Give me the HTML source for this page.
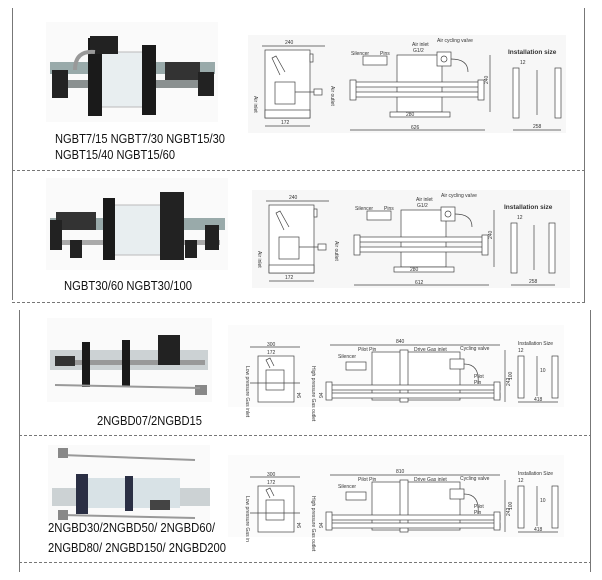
<!DOCTYPE html>
<html><head><meta charset="utf-8"><style>
html,body{margin:0;padding:0;background:#fff;width:602px;height:580px;overflow:hidden}
svg{display:block}
text{font-family:"Liberation Sans",sans-serif}
.cap{font-family:"Liberation Sans",sans-serif;font-size:12.5px;fill:#111}
.t{font-size:5px;fill:#333}
.tb{font-size:6.5px;fill:#333;font-weight:bold}
.l{stroke:#444;stroke-width:0.7;fill:none}
.f{stroke:#444;stroke-width:0.7;fill:#fff}
</style></head><body>
<svg width="602" height="580" viewBox="0 0 602 580" xmlns="http://www.w3.org/2000/svg">
<line x1="12.5" y1="8" x2="12.5" y2="300" stroke="#777" stroke-width="1"/>
<line x1="584.5" y1="8" x2="584.5" y2="302" stroke="#777" stroke-width="1"/>
<line x1="12" y1="170.5" x2="585" y2="170.5" stroke="#777" stroke-dasharray="3,2"/>
<line x1="12" y1="302.5" x2="585" y2="302.5" stroke="#777" stroke-dasharray="3,2"/>
<line x1="19.5" y1="310" x2="19.5" y2="572" stroke="#777" stroke-width="1"/>
<line x1="590.5" y1="310" x2="590.5" y2="572" stroke="#777" stroke-width="1"/>
<line x1="19" y1="435.5" x2="591" y2="435.5" stroke="#777" stroke-dasharray="3,2"/>
<line x1="19" y1="562.5" x2="591" y2="562.5" stroke="#777" stroke-dasharray="3,2"/>

<g>
<rect x="46" y="22" width="172" height="100" fill="#fafafa"/>
<rect x="50" y="62" width="165" height="12" fill="#9aa" />
<rect x="52" y="80" width="160" height="8" fill="#8a9090"/>
<rect x="95" y="52" width="55" height="55" fill="#e8eef0" stroke="#bbb"/>
<rect x="88" y="38" width="14" height="78" fill="#1a1a1a"/>
<rect x="142" y="45" width="14" height="70" fill="#1a1a1a"/>
<rect x="90" y="36" width="28" height="18" fill="#222"/>
<rect x="165" y="62" width="35" height="18" fill="#333"/>
<rect x="52" y="70" width="16" height="28" fill="#222"/>
<rect x="198" y="72" width="16" height="24" fill="#222"/>
<path d="M75 70 Q75 50 95 52" stroke="#999" stroke-width="4" fill="none"/>
</g>
<text class="cap" x="55" y="143" textLength="170" lengthAdjust="spacingAndGlyphs">NGBT7/15 NGBT7/30 NGBT15/30</text>
<text class="cap" x="55" y="159" textLength="120" lengthAdjust="spacingAndGlyphs">NGBT15/40 NGBT15/60</text>

<g>
<rect x="46" y="178" width="182" height="92" fill="#fafafa"/>
<rect x="50" y="218" width="175" height="12" fill="#9aa"/>
<rect x="60" y="240" width="160" height="5" fill="#aaa"/>
<rect x="108" y="205" width="55" height="50" fill="#e8eef0" stroke="#bbb"/>
<rect x="103" y="198" width="12" height="62" fill="#1a1a1a"/>
<rect x="160" y="192" width="24" height="68" fill="#222"/>
<rect x="56" y="212" width="40" height="18" fill="#333"/>
<rect x="50" y="220" width="12" height="30" fill="#222"/>
<rect x="205" y="225" width="14" height="25" fill="#222"/>
<rect x="70" y="240" width="12" height="18" fill="#222"/>
<rect x="185" y="240" width="12" height="18" fill="#222"/>
</g>
<text class="cap" x="64" y="290" textLength="128" lengthAdjust="spacingAndGlyphs">NGBT30/60 NGBT30/100</text>

<g>
<rect x="248" y="35" width="318" height="98" fill="#f7f7f7"/>
<text class="t" x="285" y="44">240</text>
<line class="l" x1="262" y1="46" x2="325" y2="46"/>
<rect class="f" x="265" y="50" width="45" height="68"/>
<rect class="f" x="310" y="54" width="3" height="8"/>
<rect class="f" x="275" y="82" width="20" height="22"/>
<path class="l" d="M280 75 L272 58 L276 56 L285 72"/>
<rect class="f" x="265" y="110" width="45" height="8"/>
<line class="l" x1="295" y1="92" x2="322" y2="92"/>
<rect class="f" x="314" y="89" width="8" height="6"/>
<text class="t" x="254" y="96" transform="rotate(90 254 96)">Air inlet</text>
<text class="t" x="331" y="86" transform="rotate(90 331 86)">Air outlet</text>
<text class="t" x="281" y="124">172</text>
<line class="l" x1="265" y1="126" x2="310" y2="126"/>
<text class="t" x="351" y="55">Silencer</text>
<text class="t" x="380" y="55">Pins</text>
<text class="t" x="412" y="46">Air inlet</text>
<text class="t" x="413" y="52">G1/2</text>
<text class="t" x="437" y="42">Air cycling valve</text>
<rect class="f" x="363" y="56" width="24" height="9"/>
<rect class="f" x="397" y="55" width="45" height="57"/>
<rect class="f" x="437" y="52" width="14" height="14"/>
<circle class="l" cx="444" cy="59" r="3"/>
<path class="l" d="M451 59 Q468 59 468 72"/>
<rect class="f" x="352" y="82" width="130" height="5"/>
<rect class="f" x="352" y="92" width="130" height="5"/>
<rect class="f" x="350" y="80" width="6" height="20"/>
<rect class="f" x="478" y="80" width="6" height="20"/>
<rect class="f" x="390" y="112" width="60" height="5"/>
<text class="t" x="406" y="116">280</text>
<text class="t" x="411" y="129">626</text>
<line class="l" x1="350" y1="130" x2="485" y2="130"/>
<line class="l" x1="490" y1="55" x2="490" y2="112"/>
<text class="t" x="494" y="78" transform="rotate(-90 494 84)">240</text>
<text class="tb" x="508" y="54">Installation size</text>
<text class="t" x="520" y="64">12</text>
<rect class="f" x="513" y="68" width="6" height="50"/>
<rect class="f" x="555" y="68" width="6" height="50"/>
<line class="l" x1="537" y1="70" x2="537" y2="115"/>
<line class="l" x1="513" y1="130" x2="561" y2="130"/>
<text class="t" x="533" y="128">258</text>
</g>
<g transform="translate(4,155)">
<rect x="248" y="35" width="318" height="98" fill="#f7f7f7"/>
<text class="t" x="285" y="44">240</text>
<line class="l" x1="262" y1="46" x2="325" y2="46"/>
<rect class="f" x="265" y="50" width="45" height="68"/>
<rect class="f" x="310" y="54" width="3" height="8"/>
<rect class="f" x="275" y="82" width="20" height="22"/>
<path class="l" d="M280 75 L272 58 L276 56 L285 72"/>
<rect class="f" x="265" y="110" width="45" height="8"/>
<line class="l" x1="295" y1="92" x2="322" y2="92"/>
<rect class="f" x="314" y="89" width="8" height="6"/>
<text class="t" x="254" y="96" transform="rotate(90 254 96)">Air inlet</text>
<text class="t" x="331" y="86" transform="rotate(90 331 86)">Air outlet</text>
<text class="t" x="281" y="124">172</text>
<line class="l" x1="265" y1="126" x2="310" y2="126"/>
<text class="t" x="351" y="55">Silencer</text>
<text class="t" x="380" y="55">Pins</text>
<text class="t" x="412" y="46">Air inlet</text>
<text class="t" x="413" y="52">G1/2</text>
<text class="t" x="437" y="42">Air cycling valve</text>
<rect class="f" x="363" y="56" width="24" height="9"/>
<rect class="f" x="397" y="55" width="45" height="57"/>
<rect class="f" x="437" y="52" width="14" height="14"/>
<circle class="l" cx="444" cy="59" r="3"/>
<path class="l" d="M451 59 Q468 59 468 72"/>
<rect class="f" x="352" y="82" width="130" height="5"/>
<rect class="f" x="352" y="92" width="130" height="5"/>
<rect class="f" x="350" y="80" width="6" height="20"/>
<rect class="f" x="478" y="80" width="6" height="20"/>
<rect class="f" x="390" y="112" width="60" height="5"/>
<text class="t" x="406" y="116">280</text>
<text class="t" x="411" y="129">612</text>
<line class="l" x1="350" y1="130" x2="485" y2="130"/>
<line class="l" x1="490" y1="55" x2="490" y2="112"/>
<text class="t" x="494" y="78" transform="rotate(-90 494 84)">240</text>
<text class="tb" x="500" y="54">Installation size</text>
<text class="t" x="513" y="64">12</text>
<rect class="f" x="507" y="68" width="6" height="50"/>
<rect class="f" x="545" y="68" width="6" height="50"/>
<line class="l" x1="530" y1="70" x2="530" y2="115"/>
<line class="l" x1="507" y1="130" x2="551" y2="130"/>
<text class="t" x="525" y="128">258</text>
</g>

<g>
<rect x="47" y="318" width="165" height="84" fill="#fafafa"/>
<rect x="50" y="350" width="158" height="20" fill="#ccd2d4"/>
<rect x="55" y="360" width="150" height="5" fill="#999"/>
<rect x="82" y="342" width="8" height="45" fill="#1a1a1a"/>
<rect x="122" y="340" width="8" height="47" fill="#1a1a1a"/>
<rect x="158" y="335" width="22" height="30" fill="#222"/>
<rect x="55" y="356" width="20" height="10" fill="#333"/>
<rect x="195" y="385" width="12" height="10" fill="#888"/>
<line x1="55" y1="385" x2="200" y2="388" stroke="#999" stroke-width="2"/>
</g>
<text class="cap" x="97" y="425" textLength="105" lengthAdjust="spacingAndGlyphs">2NGBD07/2NGBD15</text>

<g>
<rect x="48" y="445" width="162" height="78" fill="#fafafa"/>
<rect x="52" y="488" width="158" height="18" fill="#ccd2d4"/>
<rect x="80" y="478" width="100" height="30" fill="#d8e2e6"/>
<rect x="76" y="474" width="12" height="40" fill="#2a2f44"/>
<rect x="125" y="476" width="8" height="35" fill="#2a2f44"/>
<rect x="150" y="500" width="20" height="10" fill="#444"/>
<line x1="62" y1="455" x2="195" y2="460" stroke="#999" stroke-width="2"/>
<line x1="62" y1="515" x2="195" y2="518" stroke="#999" stroke-width="2"/>
<rect x="58" y="448" width="10" height="10" fill="#888"/>
<rect x="58" y="510" width="10" height="10" fill="#888"/>
</g>
<text class="cap" x="48" y="532" textLength="167" lengthAdjust="spacingAndGlyphs">2NGBD30/2NGBD50/ 2NGBD60/</text>
<text class="cap" x="48" y="552" textLength="178" lengthAdjust="spacingAndGlyphs">2NGBD80/ 2NGBD150/ 2NGBD200</text>

<g>
<rect x="228" y="325" width="336" height="82" fill="#fbfbfb"/>
<text class="t" x="267" y="346">300</text>
<line class="l" x1="250" y1="347" x2="300" y2="347"/>
<text class="t" x="267" y="354">172</text>
<rect class="f" x="258" y="356" width="36" height="46"/>
<rect class="f" x="266" y="370" width="18" height="20"/>
<path class="l" d="M270 368 L266 360 L270 358 L274 366"/>
<line class="l" x1="250" y1="383" x2="300" y2="383"/>
<text class="t" x="246" y="366" transform="rotate(90 246 366)">Low pressure Gas inlet</text>
<text class="t" x="312" y="366" transform="rotate(90 312 366)">High pressure Gas outlet</text>
<text class="t" x="301" y="398" transform="rotate(-90 301 398)">94</text>
<text class="t" x="323" y="398" transform="rotate(-90 323 398)">94</text>
<text class="t" x="396" y="343">840</text>
<line class="l" x1="330" y1="345" x2="500" y2="345"/>
<text class="t" x="358" y="351">Pilot Pin</text>
<text class="t" x="414" y="351">Drive Gas inlet</text>
<text class="t" x="460" y="350">Cycling valve</text>
<text class="t" x="338" y="358">Silencer</text>
<rect class="f" x="346" y="362" width="20" height="8"/>
<rect class="f" x="372" y="352" width="88" height="48"/>
<rect class="f" x="400" y="350" width="8" height="52"/>
<rect class="f" x="450" y="359" width="14" height="10"/>
<path class="l" d="M464 364 Q480 364 478 384"/>
<text class="t" x="474" y="378">Pilot</text>
<text class="t" x="474" y="384">Pin</text>
<rect class="f" x="330" y="385" width="170" height="5"/>
<rect class="f" x="330" y="393" width="170" height="5"/>
<rect class="f" x="326" y="382" width="6" height="18"/>
<rect class="f" x="494" y="382" width="6" height="18"/>
<line class="l" x1="505" y1="350" x2="505" y2="402"/>
<text class="t" x="510" y="386" transform="rotate(-90 510 386)">242</text>
<text class="t" x="518" y="345">Installation Size</text>
<text class="t" x="518" y="352">12</text>
<rect class="f" x="518" y="356" width="6" height="42"/>
<rect class="f" x="552" y="356" width="6" height="42"/>
<line class="l" x1="537" y1="356" x2="537" y2="396"/>
<text class="t" x="540" y="372">10</text>
<text class="t" x="512" y="380" transform="rotate(-90 512 380)">100</text>
<line class="l" x1="518" y1="402" x2="558" y2="402"/>
<text class="t" x="534" y="401">418</text>
</g>
<g transform="translate(0,130)">
<rect x="228" y="325" width="336" height="82" fill="#fbfbfb"/>
<text class="t" x="267" y="346">300</text>
<line class="l" x1="250" y1="347" x2="300" y2="347"/>
<text class="t" x="267" y="354">172</text>
<rect class="f" x="258" y="356" width="36" height="46"/>
<rect class="f" x="266" y="370" width="18" height="20"/>
<path class="l" d="M270 368 L266 360 L270 358 L274 366"/>
<line class="l" x1="250" y1="383" x2="300" y2="383"/>
<text class="t" x="246" y="366" transform="rotate(90 246 366)">Low pressure Gas in</text>
<text class="t" x="312" y="366" transform="rotate(90 312 366)">High pressure Gas outlet</text>
<text class="t" x="301" y="398" transform="rotate(-90 301 398)">94</text>
<text class="t" x="323" y="398" transform="rotate(-90 323 398)">94</text>
<text class="t" x="396" y="343">810</text>
<line class="l" x1="330" y1="345" x2="500" y2="345"/>
<text class="t" x="358" y="351">Pilot Pin</text>
<text class="t" x="414" y="351">Drive Gas inlet</text>
<text class="t" x="460" y="350">Cycling valve</text>
<text class="t" x="338" y="358">Silencer</text>
<rect class="f" x="346" y="362" width="20" height="8"/>
<rect class="f" x="372" y="352" width="88" height="48"/>
<rect class="f" x="400" y="350" width="8" height="52"/>
<rect class="f" x="450" y="359" width="14" height="10"/>
<path class="l" d="M464 364 Q480 364 478 384"/>
<text class="t" x="474" y="378">Pilot</text>
<text class="t" x="474" y="384">Pin</text>
<rect class="f" x="330" y="385" width="170" height="5"/>
<rect class="f" x="330" y="393" width="170" height="5"/>
<rect class="f" x="326" y="382" width="6" height="18"/>
<rect class="f" x="494" y="382" width="6" height="18"/>
<line class="l" x1="505" y1="350" x2="505" y2="402"/>
<text class="t" x="510" y="386" transform="rotate(-90 510 386)">242</text>
<text class="t" x="518" y="345">Installation Size</text>
<text class="t" x="518" y="352">12</text>
<rect class="f" x="518" y="356" width="6" height="42"/>
<rect class="f" x="552" y="356" width="6" height="42"/>
<line class="l" x1="537" y1="356" x2="537" y2="396"/>
<text class="t" x="540" y="372">10</text>
<text class="t" x="512" y="380" transform="rotate(-90 512 380)">100</text>
<line class="l" x1="518" y1="402" x2="558" y2="402"/>
<text class="t" x="534" y="401">418</text>
</g>
</svg>
</body></html>
